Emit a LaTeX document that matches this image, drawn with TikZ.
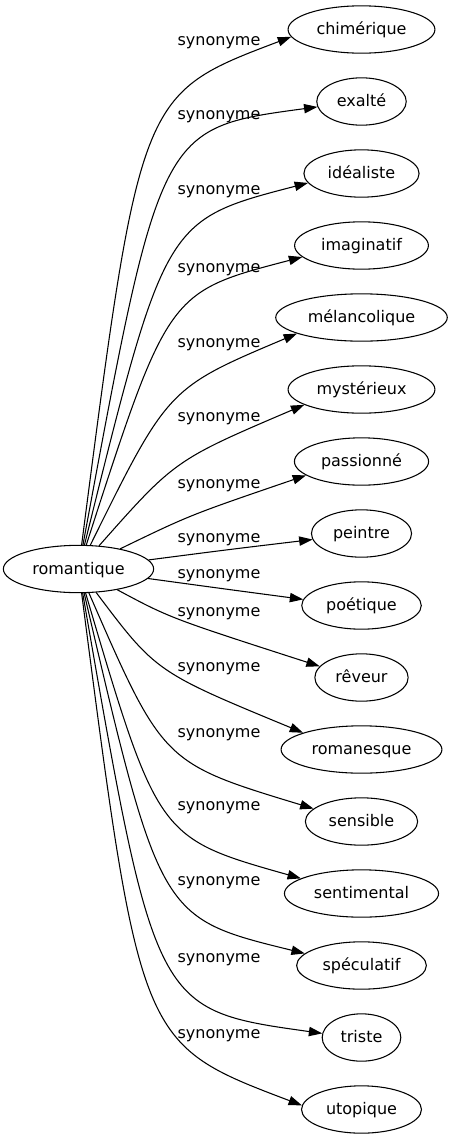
\documentclass[tikz,border=0pt]{standalone}
\usepackage{fontspec}
\setmainfont{DejaVu Sans}
\usetikzlibrary{arrows.meta,shapes.geometric}
\tikzset{
  word/.style={draw, ellipse, line width=0.8pt, inner xsep=5.2pt, inner ysep=0pt,
    minimum height=35.5pt, text height=10.5pt, text depth=2.3pt},
  synedge/.style={-{Triangle[length=10pt,width=7pt]}, line width=0.8pt},
  synlabel/.style={anchor=base, inner sep=0pt}
}
\begin{document}
\begin{tikzpicture}[x=0.75pt,y=-0.75pt]
  \fontsize{12}{14}\selectfont
  \useasboundingbox (0,0) rectangle (452,1139);
  \node[word] (rom) at (78.5,569) {romantique};
  % name/text/control point/end angle/label height
  \foreach \name/\word/\cx/\cy/\ang/\ly [count=\i from 0] in {
      chim/chimérique/140/94/186/41,
      exalte/exalté/160/128/187/115,
      ideal/idéaliste/165/220/190/190,
      imagin/imaginatif/168/292/191/268,
      melanc/mélancolique/168/388/194/343,
      myst/mystérieux/175/460/195/417,
      passion/passionné/190/515/194/484,
      peintre/peintre/229/549.5/187/538,
      poet/poétique/225/589/174/574,
      reveur/rêveur/170/618/165/612,
      romanesque/romanesque/156/672/164/667,
      sensible/sensible/163/763/165/733,
      sentim/sentimental/158/838/166/806,
      specul/spéculatif/160/918/168/881,
      triste/triste/155/1010/174/958,
      utop/utopique/140/1044/176/1034}{
    \node[word] (\name) at (361.5,29.5+72*\i) {\word};
    \draw[synedge] (rom) .. controls (\cx,\cy) .. (\name.\ang);
    \node[synlabel] (lab\i) at (219,\ly+4) {synonyme};
  }
\end{tikzpicture}
\end{document}
